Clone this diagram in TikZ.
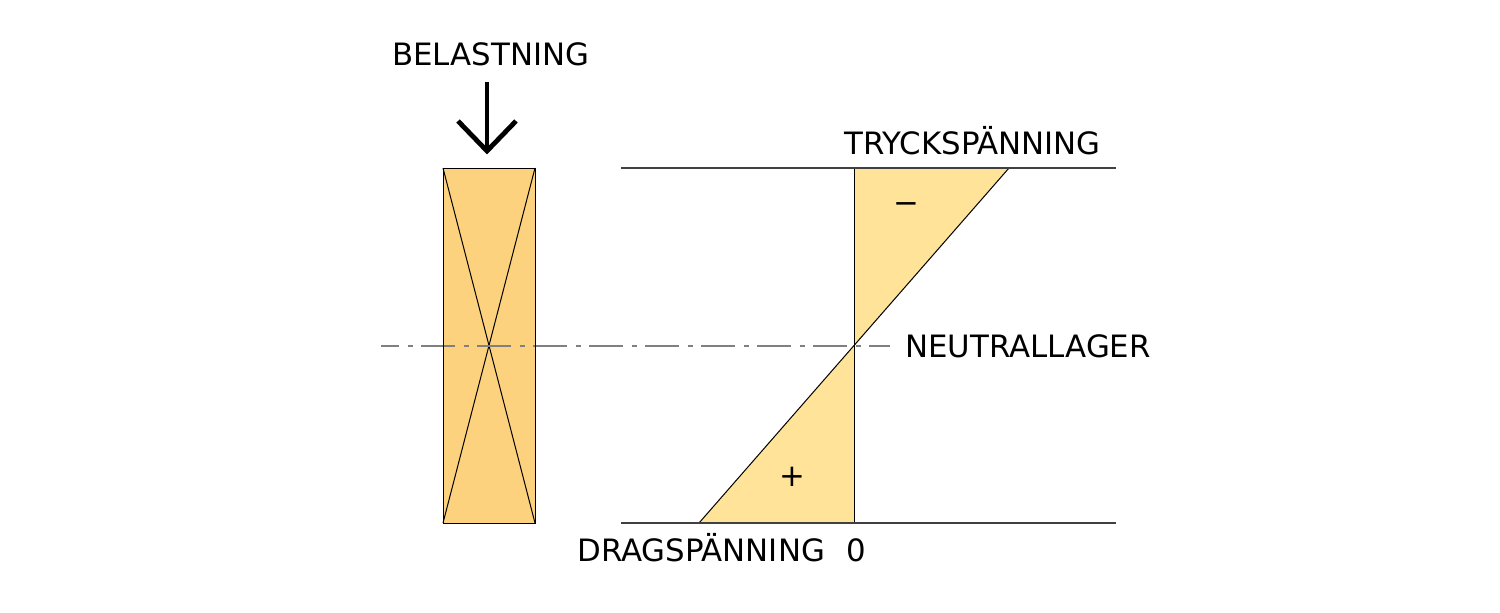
\documentclass[tikz,border=0pt]{standalone}
\usepackage{fontspec}
\setmainfont{DejaVu Sans}
\definecolor{woodfill}{HTML}{FDD27F}
\definecolor{stressfill}{HTML}{FFE398}
\definecolor{axisgray}{HTML}{808080}
\definecolor{rulegray}{HTML}{404040}
\begin{document}
\begin{tikzpicture}[x=0.5pt,y=-0.5pt,
  lbl/.style={anchor=base west,inner sep=0pt,font=\fontsize{15.4}{18}\selectfont},
  sign/.style={anchor=base,inner sep=0pt,font=\fontsize{15.4}{18}\selectfont},
  thin/.style={line width=0.5pt,black},
  hline/.style={line width=0.55pt,rulegray},
  axisline/.style={line width=0.75pt,axisgray,dash pattern=on 17pt off 4.25pt on 2.5pt off 4.25pt,dash phase=8pt},
  loadarrow/.style={line width=2.4pt,black}]
\useasboundingbox (0,0) rectangle (1500,612);
% cross-section
\coordinate (r1) at (443,168);
\coordinate (r2) at (535,168);
\coordinate (r3) at (535,523);
\coordinate (r4) at (443,523);
\fill[woodfill] (r1) rectangle (r3);
\draw[thin] (r1) -- (r3);
\draw[thin] (r2) -- (r4);
% stress diagram
\coordinate (tl) at (621,168);
\coordinate (tr) at (1116,168);
\coordinate (bl) at (621,523);
\coordinate (br) at (1116,523);
\coordinate (v1) at (854,168);
\coordinate (v2) at (854,523);
\coordinate (nc) at (854,346);
\coordinate (ct) at (1009,168);
\coordinate (tb) at (699,523);
\fill[stressfill] (v1) -- (ct) -- (nc) -- cycle;
\fill[stressfill] (nc) -- (tb) -- (v2) -- cycle;
% neutral axis
\coordinate (a1) at (381,346);
\coordinate (a2) at (890,346);
\draw[axisline] (a1) -- (a2);
\draw[thin] (r1) rectangle (r3);
\draw[thin] (ct) -- (tb);
\draw[thin] (v1) -- (v2);
\draw[hline] (tl) -- (tr);
\draw[hline] (bl) -- (br);
% load arrow
\coordinate (s1) at (487,82);
\coordinate (s2) at (487,151);
\coordinate (h1) at (458,121);
\coordinate (h2) at (516,121);
\draw[loadarrow] (s1) -- (s2);
\draw[loadarrow,line join=miter] (h1) -- (s2) -- (h2);
% labels
\node[lbl] (belast) at (392,65) {BELASTNING};
\node[lbl] (tryck) at (844,154) {TRYCKSPÄNNING};
\node[lbl] (neutral) at (905,357) {NEUTRALLAGER};
\node[lbl] (drag) at (577,561) {DRAGSPÄNNING};
\node[lbl] (zero) at (846,561) {0};
\node[sign] (minus) at (906,213) {−};
\node[sign] (plus) at (792,486) {+};
\end{tikzpicture}
\end{document}
